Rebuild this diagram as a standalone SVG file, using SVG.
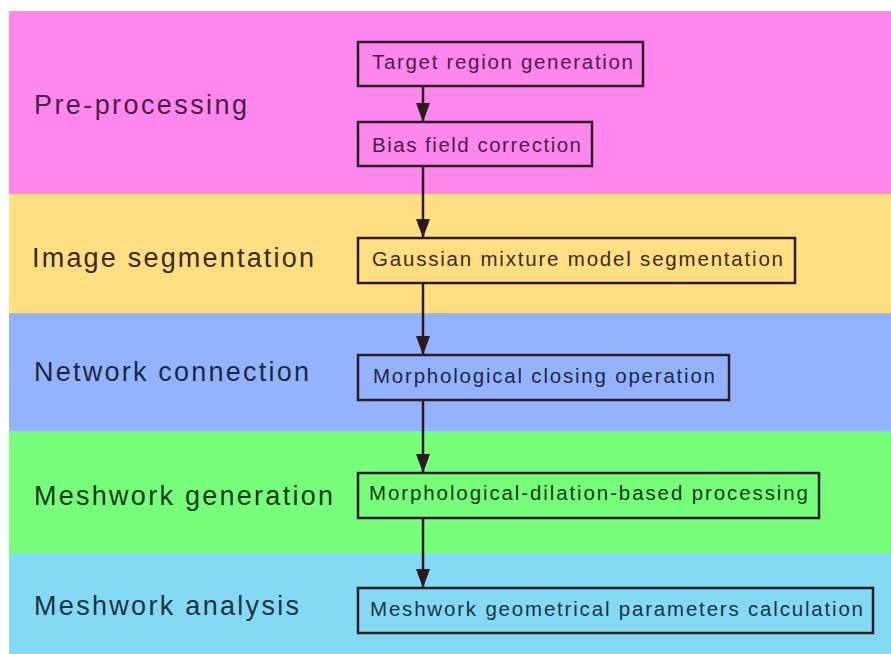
<svg xmlns="http://www.w3.org/2000/svg" width="891" height="654" viewBox="0 0 891 654">
<defs>
<style>
.lbl{font-family:"Liberation Sans",Arial,sans-serif;font-size:27px;}
.bt{font-family:"Liberation Sans",Arial,sans-serif;font-size:20.5px;}
.box{stroke:#2e1c24;stroke-width:2.5;}
.conn{stroke:#2a1a1e;stroke-width:2.5;fill:none;}
</style>
<marker id="arr" viewBox="0 0 19 14" refX="19" refY="7" markerWidth="19" markerHeight="14" markerUnits="userSpaceOnUse" orient="auto">
<path d="M0,0 L19,7 L0,14 Z" fill="#2a1a1e"/>
</marker>
</defs>
<rect width="891" height="654" fill="#ffffff"/>
<g id="bands">
<rect x="9" y="11" width="882" height="183" fill="#FF87EE"/>
<rect x="9" y="194" width="882" height="119" fill="#FFDF82"/>
<rect x="9" y="313" width="882" height="118" fill="#94B3FF"/>
<rect x="9" y="431" width="882" height="123" fill="#77FF7C"/>
<rect x="9" y="554" width="882" height="100" fill="#84D9F5"/>
</g>
<g id="labels">
<text class="lbl" x="34" y="114" textLength="213" lengthAdjust="spacing" fill="#4a1e44">Pre-processing</text>
<text class="lbl" x="32" y="267" textLength="282" lengthAdjust="spacing" fill="#3a2a1a">Image segmentation</text>
<text class="lbl" x="34" y="381" textLength="275" lengthAdjust="spacing" fill="#1e2740">Network connection</text>
<text class="lbl" x="34" y="505" textLength="299" lengthAdjust="spacing" fill="#143a16">Meshwork generation</text>
<text class="lbl" x="34" y="615" textLength="265" lengthAdjust="spacing" fill="#1a3440">Meshwork analysis</text>
</g>
<g id="connectors">
<line class="conn" x1="423" y1="86" x2="423" y2="122" marker-end="url(#arr)"/>
<line class="conn" x1="423" y1="166" x2="423" y2="238" marker-end="url(#arr)"/>
<line class="conn" x1="423" y1="283" x2="423" y2="355" marker-end="url(#arr)"/>
<line class="conn" x1="423" y1="400" x2="423" y2="473" marker-end="url(#arr)"/>
<line class="conn" x1="423" y1="518" x2="423" y2="588" marker-end="url(#arr)"/>
</g>
<g id="node1">
<rect class="box" x="358" y="42" width="285" height="44" fill="#FF87EE"/>
<text class="bt" x="372" y="69" textLength="261" lengthAdjust="spacing" fill="#4a1e44">Target region generation</text>
</g>
<g id="node2">
<rect class="box" x="358" y="122" width="234" height="44" fill="#FF87EE"/>
<text class="bt" x="372" y="152" textLength="209" lengthAdjust="spacing" fill="#4a1e44">Bias field correction</text>
</g>
<g id="node3">
<rect class="box" x="358" y="238" width="437" height="45" fill="#FFDF82"/>
<text class="bt" x="372" y="266" textLength="411" lengthAdjust="spacing" fill="#3a2a1a">Gaussian mixture model segmentation</text>
</g>
<g id="node4">
<rect class="box" x="358" y="355" width="371" height="45" fill="#94B3FF"/>
<text class="bt" x="373" y="383" textLength="342" lengthAdjust="spacing" fill="#1e2740">Morphological closing operation</text>
</g>
<g id="node5">
<rect class="box" x="358" y="473" width="461" height="45" fill="#77FF7C"/>
<text class="bt" x="369" y="500" textLength="439" lengthAdjust="spacing" fill="#143a16">Morphological-dilation-based processing</text>
</g>
<g id="node6">
<rect class="box" x="358" y="588" width="515" height="45" fill="#84D9F5"/>
<text class="bt" x="370" y="616" textLength="493" lengthAdjust="spacing" fill="#1a3440">Meshwork geometrical parameters calculation</text>
</g>
</svg>
